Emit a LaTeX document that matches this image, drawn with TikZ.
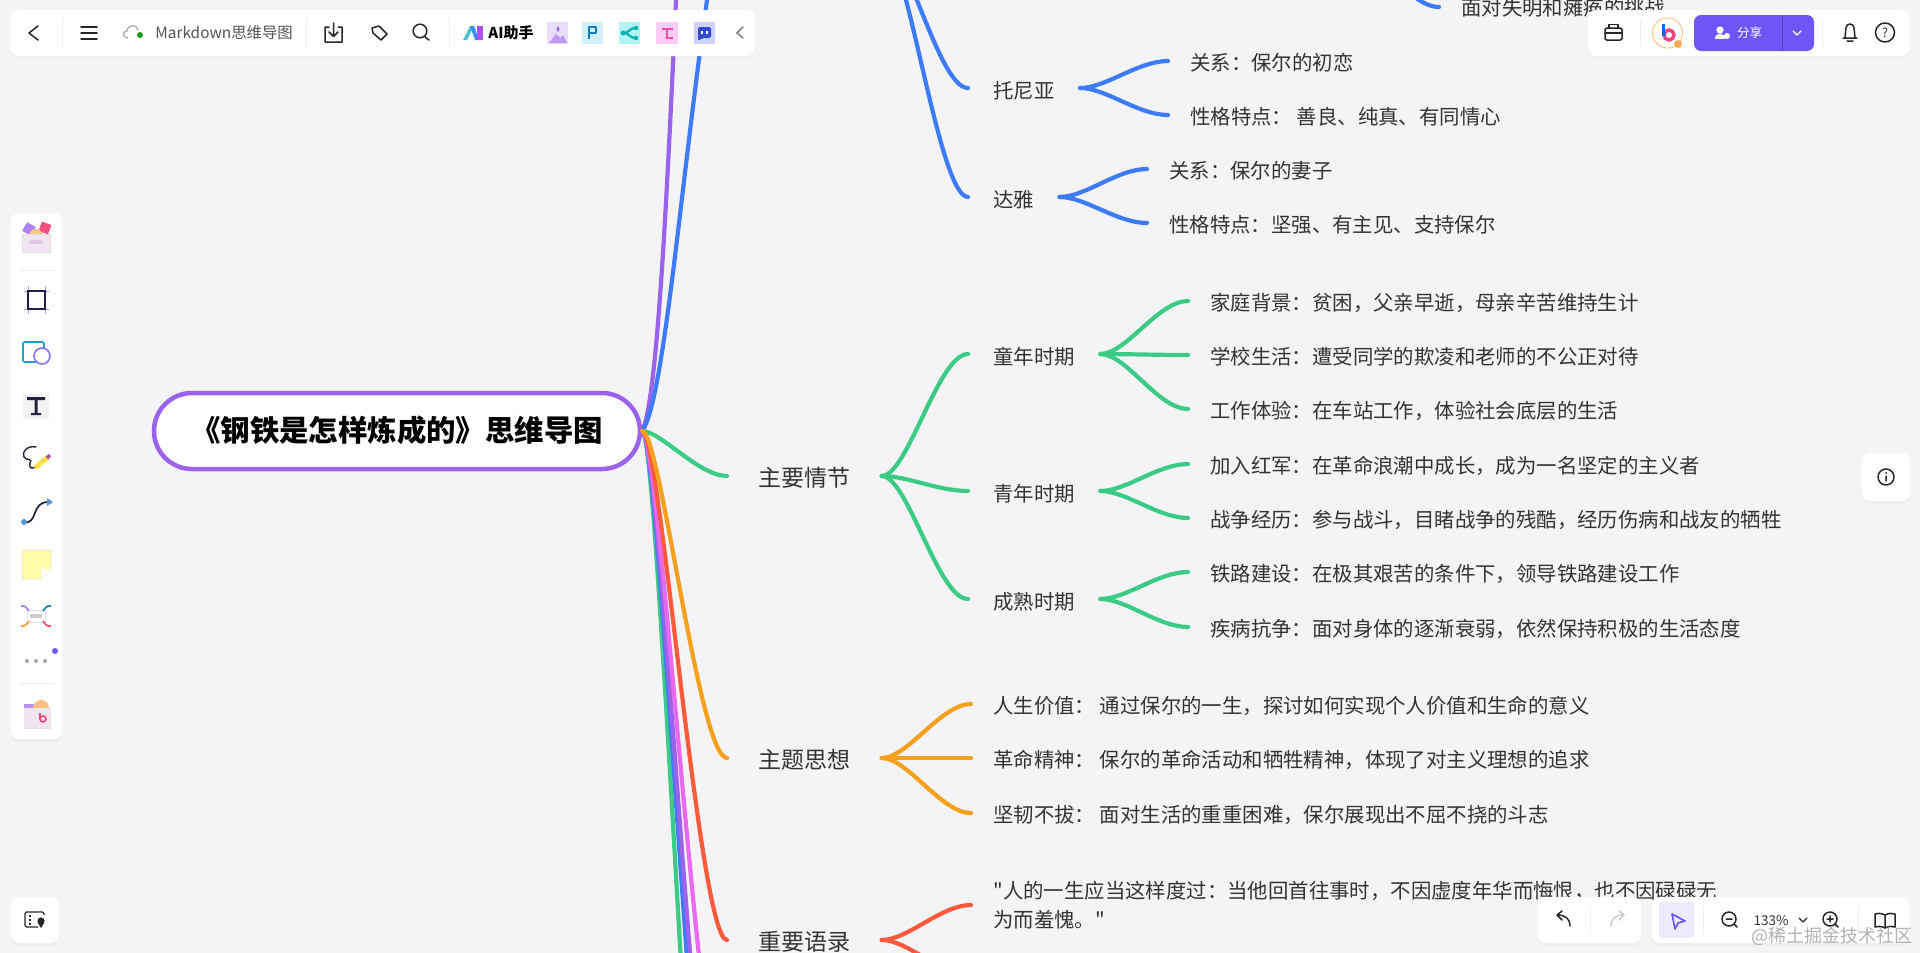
\documentclass[tikz,border=0pt]{standalone}
\usepackage{fontspec}
\setmainfont[Ligatures=TeXOff]{Noto Sans CJK SC}
\usetikzlibrary{shadows}

\definecolor{pagebg}{RGB}{244,244,247}
\definecolor{textdark}{RGB}{51,51,51}
\definecolor{mappurple}{RGB}{155,98,236}
\definecolor{mapblue}{RGB}{62,123,250}
\definecolor{mapgreen}{RGB}{60,203,133}
\definecolor{maporange}{RGB}{247,160,30}
\definecolor{mapred}{RGB}{255,90,60}
\definecolor{mappink}{RGB}{232,104,238}
\definecolor{btnpurple}{RGB}{111,85,246}
\definecolor{iconink}{RGB}{38,38,42}
\definecolor{sepgray}{RGB}{238,238,241}

\tikzset{every picture/.style={line width=0.75pt},
  rootnode/.style={draw=mappurple,line width=4.5,fill=white,rounded corners=38,minimum width=486,minimum height=76,inner sep=0,text height=25,text depth=4,font=\fontsize{29.4}{34}\selectfont\bfseries,text=black},
  plotnode/.style={inner xsep=31,inner ysep=0,text height=24,text depth=4,font=\fontsize{23}{28}\selectfont,text=textdark},
  subnode/.style={inner xsep=25,inner ysep=0,text height=24,text depth=4,font=\fontsize{20.4}{29.5}\selectfont,text=textdark},
  leafnode/.style={inner xsep=22,inner ysep=0,text height=22,text depth=4,font=\fontsize{20.4}{29.5}\selectfont,text=textdark},
  mapline/.style={line width=4.2,line cap=round},
  rootbranch/.style={to path={.. controls +(18,0) and +(-28,0) .. (\tikztotarget)}},
  branch/.style={to path={.. controls +(26,0) and +(-30,0) .. (\tikztotarget)}},
  panel/.style={fill=white,rounded corners=8,drop shadow={opacity=0.05,shadow xshift=0,shadow yshift=-3}},
  iconline/.style={draw=iconink,line width=1.5,line cap=round,line join=round},
  sepline/.style={draw=sepgray,line width=1}
}

\begin{document}
\begin{tikzpicture}[x=1pt,y=1pt,yscale=-1,xscale=1]
\useasboundingbox (0,0) rectangle (1920,953);
\clip (0,0) rectangle (1920,953);
\fill [pagebg] (0,0) rectangle (1920,953);

% Text Node
\draw (397,431) node [rootnode] (root) {《钢铁是怎样炼成的》思维导图};

%Free ends of the branches that leave the picture
\coordinate (bluehub) at (880,-60);
\coordinate (topfree) at (1350,-50);
\coordinate (redfree) at (970,975);
\coordinate (greenfree) at (728,1506);
\coordinate (bluefree) at (728,1327);
\coordinate (purplefree) at (728,1254);
\coordinate (pinkfree) at (728,1118);
\coordinate (purpletop) at (676,0);
\coordinate (bluetop) at (707,0);

% Text Node
\draw (727,476) node [anchor=west,plotnode] (plot) {主要情节};
\draw (727,758) node [anchor=west,plotnode] (theme) {主题思想};
\draw (727,940) node [anchor=west,plotnode] (quote) {重要语录};
\draw (968,88) node [anchor=west,subnode] (tonia) {托尼亚};
\draw (968,197) node [anchor=west,subnode] (daya) {达雅};
\draw (968,354) node [anchor=west,subnode] (child) {童年时期};
\draw (968,491) node [anchor=west,subnode] (youth) {青年时期};
\draw (968,599) node [anchor=west,subnode] (adult) {成熟时期};

\draw (1168,61) node [anchor=west,leafnode] (toniaa) {关系：保尔的初恋};
\draw (1168,115) node [anchor=west,leafnode] (toniab) {性格特点： 善良、纯真、有同情心};
\draw (1147,169) node [anchor=west,leafnode] (dayaa) {关系：保尔的妻子};
\draw (1147,223) node [anchor=west,leafnode] (dayab) {性格特点：坚强、有主见、支持保尔};
\draw (1188,301) node [anchor=west,leafnode] (childa) {家庭背景：贫困，父亲早逝，母亲辛苦维持生计};
\draw (1188,355) node [anchor=west,leafnode] (childb) {学校生活：遭受同学的欺凌和老师的不公正对待};
\draw (1188,409) node [anchor=west,leafnode] (childc) {工作体验：在车站工作，体验社会底层的生活};
\draw (1188,464) node [anchor=west,leafnode] (youtha) {加入红军：在革命浪潮中成长，成为一名坚定的主义者};
\draw (1188,518) node [anchor=west,leafnode] (youthb) {战争经历：参与战斗，目睹战争的残酷，经历伤病和战友的牺牲};
\draw (1188,572) node [anchor=west,leafnode] (adulta) {铁路建设：在极其艰苦的条件下，领导铁路建设工作};
\draw (1188,627) node [anchor=west,leafnode] (adultb) {疾病抗争：面对身体的逐渐衰弱，依然保持积极的生活态度};
\draw (971,704) node [anchor=west,leafnode] (themea) {人生价值： 通过保尔的一生，探讨如何实现个人价值和生命的意义};
\draw (971,758) node [anchor=west,leafnode] (themeb) {革命精神： 保尔的革命活动和牺牲精神，体现了对主义理想的追求};
\draw (971,813) node [anchor=west,leafnode] (themec) {坚韧不拔： 面对生活的重重困难，保尔展现出不屈不挠的斗志};
\draw (971,905) node [anchor=west,leafnode,align=left,text height=,text depth=] (quotea) {"人的一生应当这样度过：当他回首往事时，不因虚度年华而悔恨，也不因碌碌无\\为而羞愧。"};
\draw (1439,7) node [anchor=west,leafnode] (topleaf) {面对失明和瘫痪的挑战};

%Curve Lines
\draw [mapline,mappurple] (root.east) .. controls (658,400) and (668,170) .. (purpletop);
\draw [mapline,mapblue] (root.east) .. controls (664,400) and (680,190) .. (bluetop);
\draw [mapline,mapgreen,rootbranch] (root.east) to (greenfree);
\draw [mapline,mapblue,rootbranch] (root.east) to (bluefree);
\draw [mapline,mappurple,rootbranch] (root.east) to (purplefree);
\draw [mapline,mappink,rootbranch] (root.east) to (pinkfree);
\draw [mapline,mapgreen,rootbranch] (root.east) to (plot.west);
\draw [mapline,mapred,rootbranch] (root.east) to (quote.west);
\draw [mapline,maporange,rootbranch] (root.east) to (theme.west);

\foreach \from/\to in {bluehub/tonia.west,bluehub/daya.west,tonia.east/toniaa.west,tonia.east/toniab.west,daya.east/dayaa.west,daya.east/dayab.west,topfree/topleaf.west}
  \draw [mapline,mapblue,branch] (\from) to (\to);
\foreach \from/\to in {plot.east/child.west,plot.east/youth.west,plot.east/adult.west,child.east/childa.west,child.east/childb.west,child.east/childc.west,youth.east/youtha.west,youth.east/youthb.west,adult.east/adulta.west,adult.east/adultb.west}
  \draw [mapline,mapgreen,branch] (\from) to (\to);
\foreach \from/\to in {theme.east/themea.west,theme.east/themeb.west,theme.east/themec.west}
  \draw [mapline,maporange,branch] (\from) to (\to);
\foreach \from/\to in {quote.east/quotea.west,quote.east/redfree}
  \draw [mapline,mapred,branch] (\from) to (\to);

%Shape: top left bar
\path [panel] (11,10) rectangle (755,56);
\draw [sepline] (62,17) -- (62,49) (306,17) -- (306,49) (449,17) -- (449,49);
\draw [iconline] (38,26) -- (29,33) -- (38,40);
\draw [iconline] (81,27) -- (97,27) (81,33) -- (97,33) (81,39) -- (97,39);
\draw [draw=gray!70,line width=1.2] (128,38) .. controls (122,38) and (122,31) .. (127,31) .. controls (128,24) and (137,24) .. (138,30);
\fill [green!55!black!90] (140,35) circle [radius=3];
\draw (155,33) node [anchor=west,inner sep=0,text=textdark!85,font=\fontsize{15.4}{18}\selectfont] (mapname) {Markdown思维导图};
\draw [iconline] (329,27) -- (325,27) -- (325,42) -- (342,42) -- (342,27) -- (338,27) (333.5,23) -- (333.5,36) (329,32) -- (333.5,36.5) -- (338,32);
\draw [iconline] (372,28) -- (379,26) -- (387,34) -- (381,40) -- (373,33) -- cycle;
\draw [iconline] (420,31) circle [radius=6.8] (425,37) -- (429,40);
\fill [cyan!70!green!70] (463,40) -- (470,26) -- (474,26) -- (467,40) -- cycle;
\fill [blue!55!cyan!80] (470,26) -- (474,26) -- (479,40) -- (475,40) -- cycle;
\fill [mappurple!85!magenta] (477,26) -- (483,26) -- (483,40) -- (477,40) -- cycle;
\draw (488,33) node [anchor=west,inner sep=0,text=black,font=\fontsize{15}{18}\selectfont\bfseries] (aihelp) {AI助手};
\fill [mappurple!22] (547,22) rectangle (568,44);
\fill [mappurple!65] (549,43) -- (556,34) -- (560,38) -- (563,35) -- (567,43) -- cycle;
\fill [mappurple] (558,26) -- (559.5,29) -- (558,32) -- (556.5,29) -- cycle;
\fill [cyan!18] (582,22) rectangle (603,44);
\draw [draw=cyan!60!blue,line width=2.4,line join=round] (589,39) -- (589,27) -- (596,27) -- (596,33) -- (589,33);
\fill [teal!30!cyan!30] (619,22) rectangle (640,44);
\draw [draw=teal!60!cyan,line width=2.2,line cap=round] (624,33) .. controls (629,33) and (629,28) .. (636,28) (624,33) .. controls (629,33) and (629,38) .. (636,38);
\fill [teal!60!cyan] (623,33) circle [radius=2.4] (636,28) circle [radius=2.2] (636,38) circle [radius=2.2];
\fill [red!20!magenta!20] (656,22) rectangle (678,44);
\draw [draw=red!50!magenta!70,line width=1.8] (662,29) -- (673,29) (667,29) -- (667,38) -- (673,38);
\fill [blue!18] (694,22) rectangle (715,44);
\fill [blue!50!cyan!60!violet,rounded corners=2] (698,27) -- (711,27) -- (711,38) -- (702,38) -- (698,41) -- cycle;
\draw [draw=white,line width=1.2] (702,31) -- (702,34) (707,31) -- (707,34);
\draw [draw=gray,line width=1.5,line cap=round] (743,27) -- (737,33) -- (743,38);

%Shape: top right bar
\path [panel] (1588,10) rectangle (1909,56);
\draw [sepline] (1640,20) -- (1640,47) (1822,20) -- (1822,47);
\draw [iconline,rounded corners=1.5] (1605,28) rectangle (1622,40);
\draw [iconline] (1609,28) -- (1609,24.5) -- (1618,24.5) -- (1618,28) (1605,33) -- (1622,33);
\draw [draw=orange!45,line width=1,fill=white] (1667.5,33) circle [radius=15];
\draw [draw=magenta!60!red!75,line width=3.5] (1669,35) circle [radius=5];
\draw [draw=blue!60!cyan,line width=2.6] (1663.5,24) -- (1663.5,36);
\fill [orange!65] (1678,44) circle [radius=4];
\fill [btnpurple,rounded corners=7] (1694,15) rectangle (1814,51);
\draw [draw=black!25!btnpurple,line width=0.8] (1782,15) -- (1782,51);
\fill [white] (1720,30) circle [radius=3.6];
\fill [white] (1715,39) .. controls (1715,32) and (1725,32) .. (1725,39) -- cycle;
\fill [white] (1727,36) circle [radius=3];
\draw (1749.5,33) node [inner sep=0,text=white,font=\fontsize{12.5}{15}\selectfont] (share) {分享};
\draw [draw=white,line width=1.3,line cap=round] (1793,31) -- (1797,35) -- (1801,31);
\draw [iconline] (1843,38) -- (1857,38) (1845,38) .. controls (1846,30) and (1845,24) .. (1850,24) .. controls (1855,24) and (1854,30) .. (1855,38) (1847,41) -- (1853,41);
\draw [iconline] (1885,32.5) circle [radius=9.5];
\draw (1885,32.5) node [inner sep=0,text=iconink,font=\fontsize{12.5}{15}\selectfont] (help) {?};

%Shape: info button
\path [panel] (1862,453) rectangle (1910,501);
\draw [iconline] (1886,477) circle [radius=8] (1886,476) -- (1886,481);
\fill [iconink] (1886,473) circle [radius=1];

%Shape: left bar
\path [panel] (11,213) rectangle (62,739);
\draw [sepline] (20,270) -- (54,270) (20,683) -- (54,683);
\fill [mappurple!80,rotate around={30:(29,229)}] (24,224) rectangle (34,234);
\fill [magenta!60!red!70,rotate around={20:(45,228)}] (40,223) rectangle (50,233);
\fill [orange!45] (29,236) arc [start angle=180,end angle=360,radius=7] -- cycle;
\fill [violet!10,draw=gray!25] (22,234) rectangle (50,252);
\fill [violet!22] (29,240) rectangle (43,244);
\draw [draw=gray!70,line width=1] (24,291) -- (49,291) (24,309) -- (49,309) (28,286) -- (28,314) (45,286) -- (45,314);
\draw [draw=iconink!80!blue,line width=1.9] (28,291) rectangle (45,309);
\draw [draw=cyan!70!teal,line width=1.7,rounded corners=1.5] (23,342) rectangle (44,362);
\draw [draw=btnpurple!80,line width=1.7,fill=white] (42,356) circle [radius=8];
\fill [gray!10,draw=white,line width=2] (22,393) rectangle (50,420);
\fill [iconink!90!blue] (27,397) rectangle (45,400) (34.5,397) rectangle (37.5,415) (31,413) rectangle (41,415);
\draw [draw=iconink!90!blue,line width=1.4,line cap=round] (36,447) .. controls (28,445) and (21,452) .. (24,457) .. controls (27,461) and (33,458) .. (30,463) .. controls (28,468) and (33,470) .. (36,466);
\draw [draw=yellow!70!orange!70,line width=5] (35,468) -- (48,457);
\draw [draw=violet!70,line width=3.5] (47,458) -- (50,455);
\draw [draw=iconink!90!blue,line width=1.7] (24,522) .. controls (38,525) and (31,502) .. (48,502);
\fill [cyan!60!blue!70] (24,522) circle [radius=3];
\fill [cyan!60!blue!70] (47,498) -- (53,502) -- (47,506) -- cycle;
\fill [yellow!35,draw=gray!20] (22,550) -- (51,550) -- (51,570) -- (42,579) -- (22,579) -- cycle;
\fill [white] (51,570) -- (42,579) -- (41,568) -- cycle;
\draw [draw=gray!25,fill=white] (27,610) rectangle (45,622);
\fill [gray!40] (30,614) rectangle (42,618);
\draw [draw=mappurple!90,line width=1.6] (21,606) .. controls (26,605) and (27,609) .. (29,611);
\draw [draw=cyan!60!blue,line width=1.6] (51,606) .. controls (46,605) and (45,609) .. (43,611);
\draw [draw=orange!80,line width=1.6] (21,626) .. controls (26,627) and (27,623) .. (29,621);
\draw [draw=mapred!80!magenta,line width=1.6] (51,626) .. controls (46,627) and (45,623) .. (43,621);
\fill [gray!70] (27,661) circle [radius=2] (36,661) circle [radius=2] (45,661) circle [radius=2];
\fill [btnpurple] (55,651) circle [radius=3];
\fill [mappurple!70] (24,704) rectangle (36,710);
\fill [orange!50] (33,708) arc [start angle=180,end angle=360,radius=8] -- cycle;
\fill [violet!10,draw=gray!20] (24,708) rectangle (50,728);
\draw [draw=magenta!60!red!75,line width=1.6] (43,719) circle [radius=3] (40,713) -- (40,720);

%Shape: bottom bars
\path [panel] (11,897) rectangle (59,943);
\draw [draw=iconink,line width=1.2,rounded corners=1.5] (44,915) -- (44,912) -- (25,912) -- (25,927) -- (38,927);
\draw [draw=iconink,line width=1.2] (29,916) -- (31,916) (29,920) -- (31,920) (29,924) -- (31,924);
\fill [iconink] (41,921) circle [radius=3.6];
\fill [iconink] (38,923) -- (44,923) -- (41,928) -- cycle;
\path [panel] (1538,897) rectangle (1641,943);
\path [panel] (1652,897) rectangle (1909,943);
\draw [iconline] (1570,926) .. controls (1570,919) and (1566,915) .. (1557,915) (1562,911) -- (1557,915) -- (1562,920);
\draw [draw=gray!40,line width=1.5,line cap=round,line join=round] (1611,926) .. controls (1611,919) and (1615,915) .. (1624,915) (1619,911) -- (1624,915) -- (1619,920);
\draw [sepline] (1590,906) -- (1590,934) (1703,906) -- (1703,934) (1858,906) -- (1858,934);
\fill [btnpurple!12,rounded corners=3] (1659,902) rectangle (1694,938);
\draw [draw=btnpurple,line width=1.7,line join=round] (1672,914) -- (1685,921) -- (1678,923) -- (1675,929) -- cycle;
\draw [iconline] (1729,919) circle [radius=7] (1726,919) -- (1732,919) (1734,924) -- (1737,927);
\draw (1771,920.5) node [inner sep=0,text=textdark,font=\fontsize{13.5}{16}\selectfont] (zoomrate) {133\%};
\draw [iconline,line width=1.2] (1799,918) -- (1803,922) -- (1807,918);
\draw [iconline] (1830,919) circle [radius=7] (1827,919) -- (1833,919) (1830,916) -- (1830,922) (1835,924) -- (1838,927);
\draw [iconline] (1885,915) .. controls (1881,913) and (1878,913) .. (1875,914) -- (1875,927) .. controls (1878,926) and (1881,926) .. (1885,928) .. controls (1889,926) and (1892,926) .. (1895,927) -- (1895,914) .. controls (1892,913) and (1889,913) .. (1885,915) -- (1885,928);

% Text Node
\draw (1913,936) node [anchor=east,inner sep=0,text=gray!75,opacity=0.8,font=\fontsize{18}{20}\selectfont] (watermark) {@稀土掘金技术社区};

\end{tikzpicture}
\end{document}
